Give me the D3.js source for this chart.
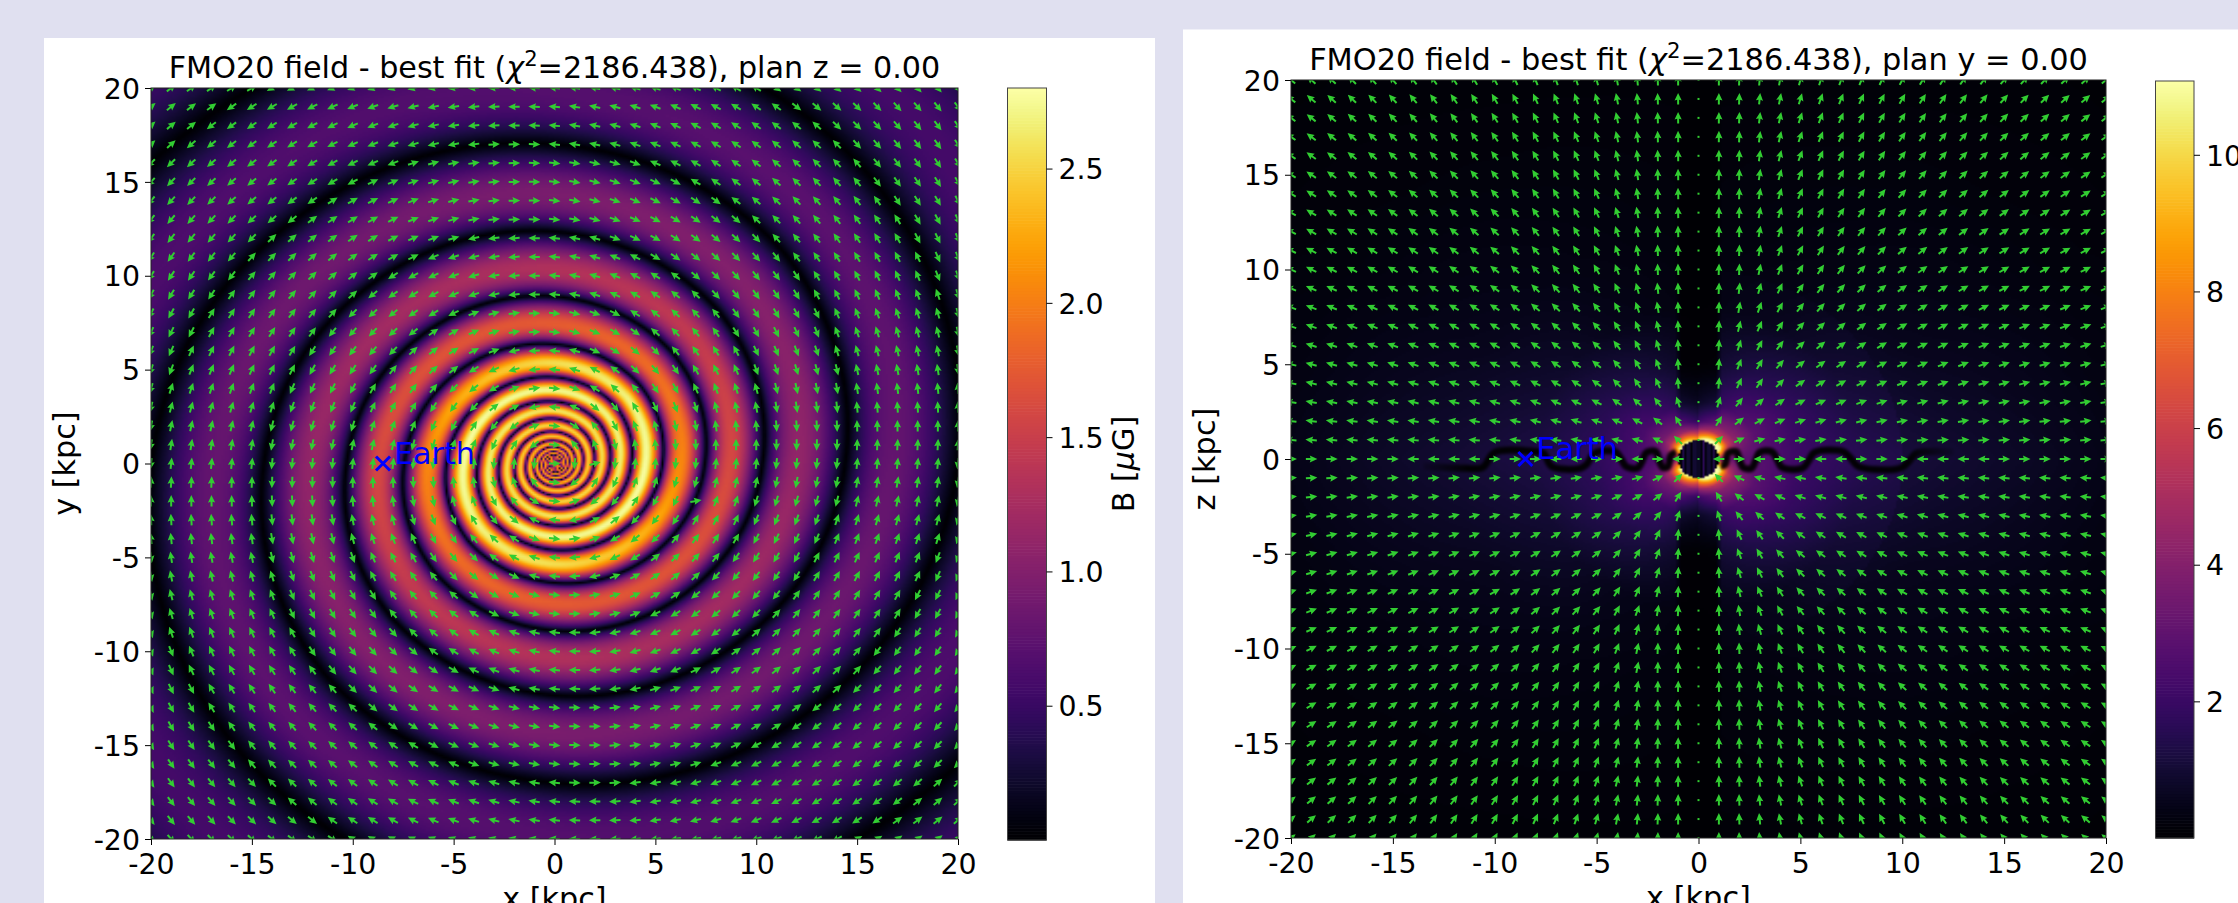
<!DOCTYPE html>
<html>
<head>
<meta charset="utf-8">
<title>FMO20 field</title>
<script src="https://cdn.jsdelivr.net/npm/d3@7"></script>
<style>
  html, body { margin: 0; padding: 0; overflow: hidden; background: #e0e0f0; }
  text { font-family: "DejaVu Sans", sans-serif; fill: #000; }
</style>
</head>
<body>
<div id="chart"></div>
<script>
// --- values ---

const tickValues = [-20, -15, -10, -5, 0, 5, 10, 15, 20];
const arrowGrid = d3.range(-20, 21);
const earthX = -8.5;
const earthZ = 0;

// left panel: radius [kpc] of the dark lanes along four directions, outermost first
const lanesAt0 = [38.5, 27.8, 20, 14.4, 10.3, 7.45, 5.35, 3.8, 2.75, 1.97, 1.41, 1.02, 0.73, 0.53, 0.38, 0.27, 0.19, 0.14, 0.10, 0.07];
const lanesAt45 = [42, 30.3, 21.9, 16, 11.5, 8.3, 5.95, 4.3, 3.1, 2.2, 1.6, 1.15, 0.83, 0.6, 0.43, 0.31, 0.22, 0.16, 0.115, 0.08];
const lanesAt90 = [45, 32.7, 23.6, 17, 12.35, 8.9, 6.35, 4.6, 3.3, 2.4, 1.7, 1.22, 0.88, 0.64, 0.46, 0.33, 0.24, 0.17, 0.125, 0.09];
const lanesAt135 = [49, 35, 25.3, 18.3, 13.2, 9.5, 6.85, 4.9, 3.55, 2.55, 1.83, 1.32, 0.95, 0.68, 0.49, 0.35, 0.25, 0.18, 0.13, 0.095];
const laneOuterAt180 = 53;
const windingRate = 0.105; // d ln r / d phi of the lanes

// left panel: brightness of the arm crest against radius
const crestRadius = [0, 0.3, 0.6, 1, 1.6, 2.3, 3.2, 4.4, 5, 5.4, 5.8, 6.3, 7.5, 8.8, 10.5, 12.2, 15, 17, 20, 25, 30];
const crestField = [1.9, 2.05, 2.2, 2.3, 2.45, 2.55, 2.65, 2.78, 2.7, 2.55, 2.3, 2.05, 1.75, 1.6, 1.3, 1.1, 0.9, 0.78, 0.68, 0.58, 0.55];
const coreField = 1.9;

// arrows that stand off the lane direction in the left panel
const oddArrowX = [7, 2];
const oddArrowY = [-2, 0];
const oddArrowDeg = [10, 15];

// right panel: |B| against radius, one row per elevation from the plane
const planeRadius = [1, 1.1, 1.3, 1.6, 2, 3, 5, 8, 12, 20, 29];
const planeElevation = [0, 30, 60, 90];
const planeField = [
  [3.5, 3.2, 3, 2.6, 2.4, 2.3, 1.7, 1.3, 1.0, 0.45, 0.1],
  [11, 10.5, 8, 5, 3.6, 2.4, 1.6, 0.9, 0.55, 0.24, 0.1],
  [11, 10, 7.5, 4.5, 3.2, 1.9, 1.2, 0.5, 0.35, 0.18, 0.1],
  [9, 8, 6, 3.6, 2, 1, 0.6, 0.3, 0.22, 0.15, 0.1]
];
const diskStripeX = [-0.74, -0.5, -0.2, 0, 0.25, 0.5, 0.74];
const diskStripeField = [1.5, 1.7, 1.6, 1.2, 1.7, 1.6, 1.5];

// right panel: elevation [deg] of the arrows off the plane
const haloArrowX = [1, 2, 3, 5, 10, 15, 20];
const haloArrowZ = [1, 4, 10, 20];
const haloArrowDeg = [
  [45, 25, 15, 10, 6, 5, 4],
  [85, 65, 55, 35, 22, 16, 12],
  [88, 88, 78, 60, 38, 30, 25],
  [90, 88, 85, 75, 62, 50, 40]
];

// right panel: the dark wiggle along the plane
const waveLeftX = [-13.5, -11.5, -10.6, -10, -8, -7.6, -7.2, -5.8, -5.5, -5.1, -4.1, -3.85, -3.55, -3, -2.8, -2.55, -2.1, -1.95, -1.75, -1.5, -1.35, -1.1];
const waveLeftZ = [-0.4, -0.49, -0.45, 0.35, 0.39, 0.3, -0.4, -0.49, -0.3, 0.3, 0.39, 0.1, -0.4, -0.49, -0.2, 0.35, 0.39, 0, -0.45, -0.4, 0.2, 0.35];
const waveRightX = [1.1, 1.3, 1.45, 1.85, 2, 2.2, 2.6, 2.8, 3, 3.6, 3.85, 4.1, 5.1, 5.4, 5.7, 7.1, 7.5, 7.85, 9.9, 10.35, 10.7, 12.5];
const waveRightZ = [-0.35, -0.3, 0.3, 0.39, 0, -0.45, -0.49, -0.1, 0.35, 0.39, 0, -0.45, -0.49, -0.1, 0.35, 0.39, 0, -0.4, -0.49, -0.1, 0.3, 0.35];

// --- helpers ---

const lanesByDirection = [lanesAt0, lanesAt45, lanesAt90, lanesAt135].map(a => a.map(Math.log));
const lanesAt180 = [laneOuterAt180].concat(lanesAt0.slice(0, -1)).map(Math.log);
lanesByDirection.push(lanesAt180);
const laneCount = lanesAt0.length;

// which spiral band a point falls in, and how far across it
function bandAt(x, y) {
  const r = Math.hypot(x, y);
  if (r < 0.07) return null;
  let phi = Math.atan2(y, x);
  if (phi < 0) phi += 2 * Math.PI;
  const secondHalf = phi >= Math.PI;
  const p = (secondHalf ? phi - Math.PI : phi) / (Math.PI / 4);
  const j = Math.min(3, Math.floor(p));
  const f = p - j;
  const a = lanesByDirection[j], b = lanesByDirection[j + 1];
  const lr = Math.log(r);
  let outer = a[0] * (1 - f) + b[0] * f;
  for (let k = 0; k < laneCount - 1; k++) {
    const inner = a[k + 1] * (1 - f) + b[k + 1] * f;
    if (lr >= inner) {
      return { k, t: (lr - inner) / (outer - inner), phi, secondHalf };
    }
    outer = inner;
  }
  return null;
}

function tableLookup(xKnots, yKnots, table, x, y) {
  const cx = Math.max(xKnots[0], Math.min(xKnots[xKnots.length - 1], x));
  const cy = Math.max(yKnots[0], Math.min(yKnots[yKnots.length - 1], y));
  const i = Math.min(xKnots.length - 2, Math.max(0, d3.bisectRight(xKnots, cx) - 1));
  const j = Math.min(yKnots.length - 2, Math.max(0, d3.bisectRight(yKnots, cy) - 1));
  const fx = (cx - xKnots[i]) / (xKnots[i + 1] - xKnots[i]);
  const fy = (cy - yKnots[j]) / (yKnots[j + 1] - yKnots[j]);
  const low = table[j][i] * (1 - fx) + table[j][i + 1] * fx;
  const high = table[j + 1][i] * (1 - fx) + table[j + 1][i + 1] * fx;
  return low * (1 - fy) + high * fy;
}

const crestScale = d3.scaleLinear().domain(crestRadius).range(crestField).clamp(true);

function leftFieldAt(x, y) {
  const band = bandAt(x, y);
  if (!band) return coreField;
  return crestScale(Math.hypot(x, y)) * Math.pow(Math.sin(Math.PI * band.t), 0.9);
}

function rightFieldAt(x, z) {
  const r = Math.hypot(x, z);
  if (r < 1) {
    let v = 0.15;
    diskStripeX.forEach((s, i) => {
      v = Math.max(v, diskStripeField[i] * Math.exp(-Math.pow((x - s) / 0.07, 2)));
    });
    return v;
  }
  const elevation = Math.atan2(Math.abs(z), Math.abs(x)) * 180 / Math.PI;
  let v = tableLookup(planeRadius, planeElevation, planeField, r, elevation);
  if (x > 0 && r < 10) v *= 1.2;
  // black column over the centre, away from the plane
  const edge = Math.min(1, Math.max(0, (Math.abs(x) - 0.85) / 0.3));
  const reach = Math.min(1, Math.max(0, (Math.abs(z) - 1.5) / 3.5));
  return v * (1 - reach * (1 - edge) * 0.9);
}

function leftArrowAngle(x, y) {
  const odd = oddArrowX.findIndex((ox, i) => ox === x && oddArrowY[i] === y);
  if (odd >= 0) return oddArrowDeg[odd];
  const band = bandAt(x, y);
  if (!band) return 0;
  const sign = (band.k % 2 === 0 ? 1 : -1) * (band.secondHalf ? -1 : 1);
  const u = sign * (-Math.sin(band.phi) + windingRate * Math.cos(band.phi));
  const v = sign * (Math.cos(band.phi) + windingRate * Math.sin(band.phi));
  return Math.atan2(v, u) * 180 / Math.PI;
}

function rightArrowAngle(x, z) {
  if (z === 0) {
    const band = bandAt(Math.abs(x), 0.001);
    return band && band.k % 2 === 0 ? 0 : 180;
  }
  const e = tableLookup(haloArrowX, haloArrowZ, haloArrowDeg, Math.abs(x), Math.abs(z));
  const outward = (z > 0) === (x > 0);
  return outward ? e : 180 - e;
}

// --- drawing ---

const svg = d3.select("#chart").append("svg")
  .attr("width", 2238)
  .attr("height", 903)
  .style("display", "block");

svg.append("rect").attr("x", 44).attr("y", 38).attr("width", 1111).attr("height", 865).attr("fill", "#fff");
svg.append("rect").attr("x", 1183).attr("y", 29.5).attr("width", 1055).attr("height", 874).attr("fill", "#fff");

const defs = svg.append("defs");
defs.append("filter").attr("id", "soft")
  .attr("x", "-5%").attr("y", "-200%").attr("width", "110%").attr("height", "500%")
  .append("feGaussianBlur").attr("stdDeviation", 1.8);

const arrowPath = "M-5.5,-1L-0.8,-1L-1.6,-3.6L6,0L-1.6,3.6L-0.8,1L-5.5,1Z";

function drawPanel(opts) {
  const { id, box, vmax, fieldAt, arrowAngle, cbar, cbarTicks, cbarFormat, plane, yName, labelSize } = opts;

  const x = d3.scaleLinear().domain([-20, 20]).range([box.left, box.right]);
  const y = d3.scaleLinear().domain([-20, 20]).range([box.bottom, box.top]);
  const color = d3.scaleSequential(d3.interpolateInferno).domain([0, vmax]);

  // the field image
  const cells = 400;
  const cellX = d3.scaleLinear().domain([0, cells]).range(x.domain());
  const cellY = d3.scaleLinear().domain([0, cells]).range(y.domain().slice().reverse());
  const canvas = document.createElement("canvas");
  canvas.width = cells;
  canvas.height = cells;
  const ctx = canvas.getContext("2d");
  const image = ctx.createImageData(cells, cells);
  const lut = d3.range(1025).map(i => d3.rgb(color(vmax * i / 1024)));
  for (let j = 0; j < cells; j++) {
    for (let i = 0; i < cells; i++) {
      const v = fieldAt(cellX(i + 0.5), cellY(j + 0.5));
      const c = lut[Math.max(0, Math.min(1024, Math.round(v / vmax * 1024)))];
      const o = (j * cells + i) * 4;
      image.data[o] = c.r;
      image.data[o + 1] = c.g;
      image.data[o + 2] = c.b;
      image.data[o + 3] = 255;
    }
  }
  ctx.putImageData(image, 0, 0);

  svg.append("image")
    .attr("x", box.left).attr("y", box.top)
    .attr("width", box.right - box.left).attr("height", box.bottom - box.top)
    .attr("preserveAspectRatio", "none")
    .attr("href", canvas.toDataURL());

  defs.append("clipPath").attr("id", "clip" + id)
    .append("rect")
    .attr("x", box.left).attr("y", box.top)
    .attr("width", box.right - box.left).attr("height", box.bottom - box.top);

  const inner = svg.append("g").attr("clip-path", `url(#clip${id})`);

  if (plane) {
    const grad = defs.append("linearGradient").attr("id", "waveFade")
      .attr("gradientUnits", "userSpaceOnUse")
      .attr("x1", x(-14)).attr("x2", x(13)).attr("y1", 0).attr("y2", 0);
    grad.append("stop").attr("offset", 0).attr("stop-color", "#000").attr("stop-opacity", 0);
    grad.append("stop").attr("offset", 0.1).attr("stop-color", "#000").attr("stop-opacity", 0.95);
    grad.append("stop").attr("offset", 0.9).attr("stop-color", "#000").attr("stop-opacity", 0.95);
    grad.append("stop").attr("offset", 1).attr("stop-color", "#000").attr("stop-opacity", 0);
    const wave = d3.line().x(d => x(d[0])).y(d => y(d[1])).curve(d3.curveCatmullRom.alpha(0.5));
    [[waveLeftX, waveLeftZ], [waveRightX, waveRightZ]].forEach(([wx, wz]) => {
      inner.append("path")
        .attr("d", wave(wx.map((v, i) => [v, wz[i]])))
        .attr("fill", "none")
        .attr("stroke", "url(#waveFade)")
        .attr("stroke-width", 7)
        .attr("filter", "url(#soft)");
    });
  }

  // quiver
  const arrowData = arrowGrid.flatMap(ax => arrowGrid.map(ay => ({ ax, ay })));
  const isDot = d => plane && d.ax === 0;
  inner.selectAll("path.arrow")
    .data(arrowData.filter(d => !isDot(d)))
    .join("path")
    .attr("class", "arrow")
    .attr("d", arrowPath)
    .attr("fill", "#32cd32")
    .attr("transform", d => `translate(${x(d.ax)},${y(d.ay)}) rotate(${-arrowAngle(d.ax, d.ay)})`);
  inner.selectAll("rect.dot")
    .data(arrowData.filter(isDot))
    .join("rect")
    .attr("class", "dot")
    .attr("x", d => x(d.ax) - 1).attr("y", d => y(d.ay) - 1)
    .attr("width", 2).attr("height", 2)
    .attr("fill", "#32cd32");

  // Earth
  const mx = x(earthX), my = y(earthZ);
  const s = 7;
  inner.append("path")
    .attr("d", `M${mx - s},${my - s}L${mx + s},${my + s}M${mx - s},${my + s}L${mx + s},${my - s}`)
    .attr("stroke", "#0000ff").attr("stroke-width", 3).attr("fill", "none");
  inner.append("text")
    .attr("x", mx + 11).attr("y", my)
    .attr("font-size", labelSize)
    .style("fill", "#0000ff")
    .text("Earth");

  // axes
  const tickFormat = d => String(d);
  const xAxis = svg.append("g").attr("transform", `translate(0,${box.bottom})`)
    .call(d3.axisBottom(x).tickValues(tickValues).tickFormat(tickFormat).tickSize(6).tickPadding(9));
  const yAxis = svg.append("g").attr("transform", `translate(${box.left},0)`)
    .call(d3.axisLeft(y).tickValues(tickValues).tickFormat(tickFormat).tickSize(6).tickPadding(5));
  [xAxis, yAxis].forEach(a => {
    a.selectAll("text").attr("font-size", 28.4).attr("font-family", "DejaVu Sans");
    a.attr("font-family", null);
    a.select(".domain").remove();
  });
  yAxis.selectAll("text").attr("dy", "0.36em");
  svg.append("rect")
    .attr("x", box.left).attr("y", box.top)
    .attr("width", box.right - box.left).attr("height", box.bottom - box.top)
    .attr("fill", "none").attr("stroke", "#222").attr("stroke-width", 1);

  svg.append("text")
    .attr("x", (box.left + box.right) / 2).attr("y", box.bottom + 70)
    .attr("text-anchor", "middle").attr("font-size", labelSize)
    .text("x [kpc]");
  svg.append("text")
    .attr("transform", `translate(${box.left - 76},${(box.top + box.bottom) / 2}) rotate(-90)`)
    .attr("text-anchor", "middle").attr("font-size", labelSize)
    .text(yName + " [kpc]");

  // title
  const title = svg.append("text")
    .attr("x", (box.left + box.right) / 2).attr("y", box.top - 10)
    .attr("text-anchor", "middle").attr("font-size", labelSize);
  title.append("tspan").text("FMO20 field - best fit (");
  title.append("tspan").attr("font-style", "italic").text("\u03c7");
  title.append("tspan").attr("font-size", labelSize * 0.7).attr("dy", -12).text("2");
  title.append("tspan").attr("dy", 12).text(`=2186.438), plan ${opts.planeName} = 0.00`);

  // colour bar
  const cbarY = d3.scaleLinear().domain([0, vmax]).range([cbar.bottom, cbar.top]);
  const steps = d3.range(256);
  svg.append("g").selectAll("rect")
    .data(steps)
    .join("rect")
    .attr("x", cbar.left)
    .attr("width", cbar.right - cbar.left)
    .attr("y", d => cbarY((d + 1) * vmax / 256))
    .attr("height", d => cbarY(d * vmax / 256) - cbarY((d + 1) * vmax / 256) + 0.6)
    .attr("fill", d => color((d + 0.5) * vmax / 256));
  svg.append("rect")
    .attr("x", cbar.left).attr("y", cbar.top)
    .attr("width", cbar.right - cbar.left).attr("height", cbar.bottom - cbar.top)
    .attr("fill", "none").attr("stroke", "#444").attr("stroke-width", 1);
  const cAxis = svg.append("g").attr("transform", `translate(${cbar.right},0)`)
    .call(d3.axisRight(cbarY).tickValues(cbarTicks).tickFormat(cbarFormat).tickSize(6).tickPadding(6));
  cAxis.selectAll("text").attr("font-size", 28.4).attr("font-family", "DejaVu Sans").attr("dy", "0.36em");
  cAxis.attr("font-family", null);
  cAxis.select(".domain").remove();
  if (cbar.label) {
    const label = svg.append("text")
      .attr("transform", `translate(${cbar.right + 87},${(cbar.top + cbar.bottom) / 2}) rotate(-90)`)
      .attr("text-anchor", "middle").attr("font-size", labelSize);
    label.append("tspan").text("B [");
    label.append("tspan").attr("font-style", "italic").text("\u03bc");
    label.append("tspan").text("G]");
  }
}

drawPanel({
  id: "Z",
  box: { left: 151, right: 958, top: 88, bottom: 839 },
  vmax: 2.8,
  fieldAt: leftFieldAt,
  arrowAngle: leftArrowAngle,
  cbar: { left: 1007.5, right: 1046.5, top: 88, bottom: 840, label: true },
  cbarTicks: [0.5, 1, 1.5, 2, 2.5],
  cbarFormat: d3.format(".1f"),
  plane: false,
  planeName: "z",
  yName: "y",
  labelSize: 30.2
});

drawPanel({
  id: "Y",
  box: { left: 1291, right: 2106, top: 80, bottom: 838 },
  vmax: 11.08,
  fieldAt: rightFieldAt,
  arrowAngle: rightArrowAngle,
  cbar: { left: 2155.5, right: 2194, top: 81, bottom: 838, label: false },
  cbarTicks: [2, 4, 6, 8, 10],
  cbarFormat: d3.format("d"),
  plane: true,
  planeName: "y",
  yName: "z",
  labelSize: 30.4
});
</script>
</body>
</html>
